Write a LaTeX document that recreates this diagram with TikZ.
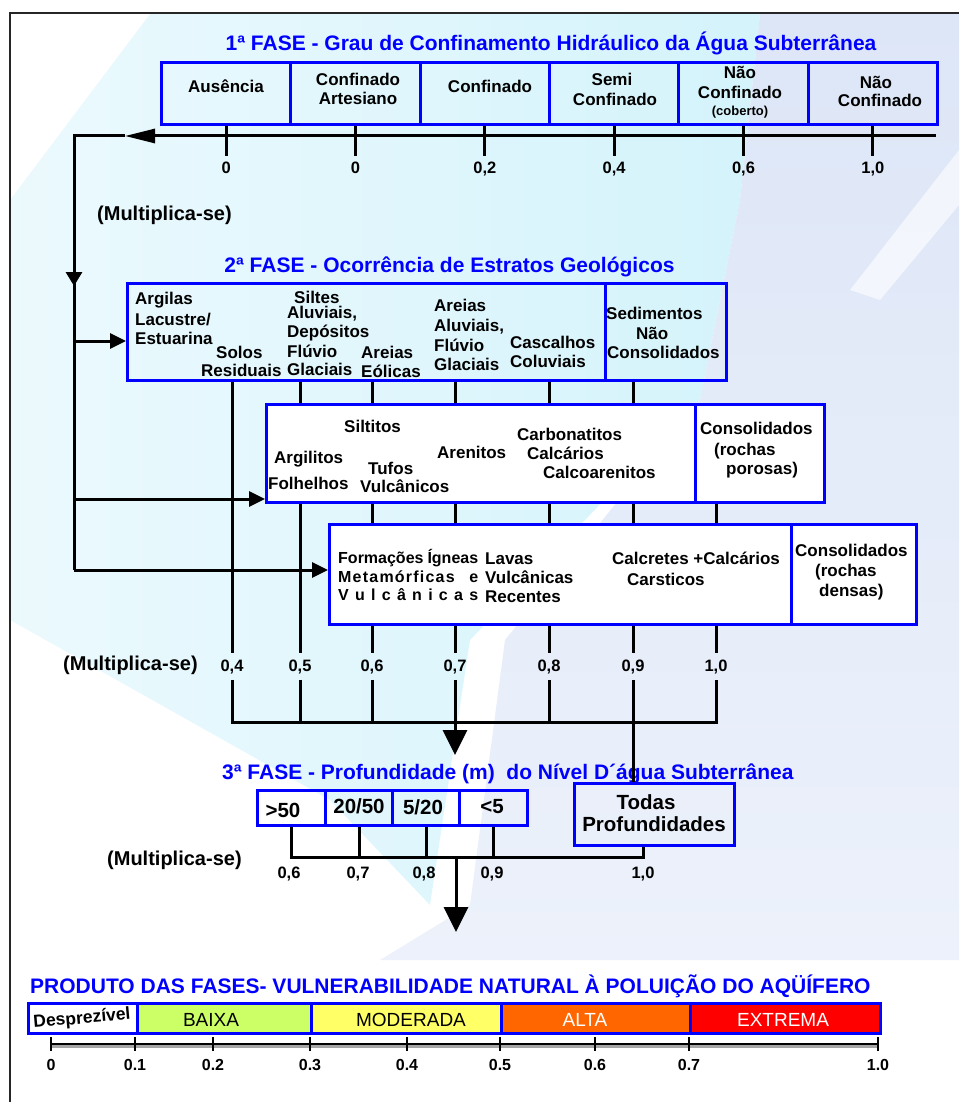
\documentclass[tikz,border=0pt]{standalone}
\usepackage{fontspec}
\setmainfont{Liberation Sans}
\usetikzlibrary{arrows.meta}
\definecolor{pblue}{RGB}{0,0,255}
\definecolor{bgcyan}{RGB}{212,243,251}
\definecolor{bglav}{RGB}{221,230,247}
\definecolor{cbaixa}{RGB}{204,255,102}
\definecolor{cmod}{RGB}{255,255,102}
\definecolor{calta}{RGB}{255,102,0}
\definecolor{cext}{RGB}{255,0,0}
\tikzset{
  bluebox/.style={draw=pblue, line width=3pt, inner sep=0pt, anchor=north west},
  conn/.style={line width=3pt, draw=black, line join=miter},
  tx/.style={font=\fontsize{17}{20}\selectfont\bfseries, inner sep=0pt},
  txs/.style={font=\fontsize{16}{19}\selectfont\bfseries, inner sep=0pt},
  txb/.style={font=\fontsize{20.5}{23}\selectfont\bfseries, inner sep=0pt},
  ttl/.style={font=\fontsize{21}{24}\selectfont\bfseries, text=pblue, inner sep=0pt},
  num/.style={font=\fontsize{16.5}{18}\selectfont\bfseries, inner sep=6pt},
  mult/.style={font=\fontsize{20}{22}\selectfont\bfseries, inner sep=0pt, anchor=base west},
  barlbl/.style={font=\fontsize{19}{21}\selectfont, inner sep=0pt, anchor=base},
  smalltip/.style={-{Triangle[length=16pt,width=15pt]}},
  bigtip/.style={-{Triangle[length=25pt,width=24pt]}}
}
\newcounter{lblc}
\newcommand\tput[5][base west]{\stepcounter{lblc}\node[#2,anchor=#1] (t\arabic{lblc}) at (#3,#4) {#5};}
\begin{document}
\begin{tikzpicture}[x=1pt,y=-1pt]
\useasboundingbox (0,0) rectangle (959,1102);
% background watermark
\shade[left color=bgcyan!45!white, right color=bgcyan] (150,14) -- (760,14) -- (740,200) -- (700,400) -- (470,640) -- (430,905) -- (330,800) -- (10,620) -- (10,200) -- cycle;
\shade[top color=bglav, bottom color=bglav!55!white] (760,14) -- (959,14) -- (959,960) -- (380,960) -- (470,905) -- (505,640) -- (700,400) -- (740,200) -- cycle;
\fill[white, opacity=0.6] (850,290) -- (959,150) -- (959,205) -- (880,300) -- cycle;
% frame
\draw[line width=2pt, black!85] (10,1102) -- (10,13) -- (959,13);

% ===== 1a FASE =====
\node[ttl, anchor=base] (title1) at (551,50.5) {1ª FASE - Grau de Confinamento Hidráulico da Água Subterrânea};
\foreach \i/\x in {a/160,b/289.33,c/418.67,d/548,e/677.33,f/806.67}
  \node[bluebox, minimum width=129.33pt, minimum height=62pt] (p1\i) at (\x,61) {};
\tput[base]{tx}{226}{93}{Ausência}
\tput[base]{tx}{358}{86}{Confinado}
\tput[base]{tx}{358}{105}{Artesiano}
\tput[base]{tx}{490}{93}{Confinado}
\tput[base]{tx}{612}{86}{Semi}
\tput[base]{tx}{615}{106}{Confinado}
\tput[base]{tx}{740}{79}{Não}
\tput[base]{tx}{740}{99}{Confinado}
\tput[base]{font=\fontsize{13}{15}\selectfont\bfseries,inner sep=0pt}{740}{116}{(coberto)}
\tput[base]{tx}{876}{89}{Não}
\tput[base]{tx}{880}{107}{Confinado}
\foreach \i/\v in {a/0,b/0,c/{0,2},d/{0,4},e/{0,6},f/{1,0}}{
  \node[num, anchor=base] (n1\i) at ([yshift=-48pt]p1\i.south) {\v};
  \draw[conn] (p1\i.south) -- (p1\i.south |- n1\i.north);
}
\coordinate (h1r) at (936,136);
\coordinate (h1t) at (125,136);
\coordinate (h1l) at (74,136);
\coordinate (vt) at (74,286);
\coordinate (vb) at (74,570);
\draw[conn, -{Triangle[length=30pt,width=14pt]}] (h1r) -- (h1t);
\draw[conn] (h1t) -- (h1l) -- (vb);
\draw[conn, -{Triangle[length=14pt,width=16pt]}] (h1l) -- (vt);
\node[mult] (mult1) at (97,220) {(Multiplica-se)};

% ===== 2a FASE =====
\node[ttl, anchor=base] (title2) at (449.5,272.5) {2ª FASE - Ocorrência de Estratos Geológicos};
\node[bluebox, minimum width=478pt, minimum height=97pt] (p2a) at (126,282) {};
\node[bluebox, minimum width=121pt, minimum height=97pt] (p2s) at (604,282) {};
\node[bluebox, fill=white, minimum width=429pt, minimum height=98pt] (p2b) at (265,403) {};
\node[bluebox, fill=white, minimum width=129pt, minimum height=98pt] (p2c) at (694,403) {};
\node[bluebox, fill=white, minimum width=462pt, minimum height=100pt] (p3) at (328,523) {};
\node[bluebox, fill=white, minimum width=125pt, minimum height=100pt] (p3c) at (790,523) {};
% box 2a texts
\tput{tx}{135}{304}{Argilas}
\tput{tx}{135}{325}{Lacustre/}
\tput{tx}{135}{344}{Estuarina}
\tput{tx}{216}{358}{Solos}
\tput{tx}{201}{376}{Residuais}
\tput{tx}{294}{303}{Siltes}
\tput{tx}{287}{318}{Aluviais,}
\tput{tx}{287}{337}{Depósitos}
\tput{tx}{287}{357}{Flúvio}
\tput{tx}{287}{375}{Glaciais}
\tput{tx}{361}{358}{Areias}
\tput{tx}{361}{377}{Eólicas}
\tput{tx}{434}{311}{Areias}
\tput{tx}{434}{331}{Aluviais,}
\tput{tx}{434}{351}{Flúvio}
\tput{tx}{434}{370}{Glaciais}
\tput{tx}{510}{348}{Cascalhos}
\tput{tx}{510}{367}{Coluviais}
\tput{tx}{606}{319}{Sedimentos}
\tput{tx}{636}{339}{Não}
\tput{tx}{607}{358}{Consolidados}
% box 2b texts
\tput{tx}{344}{432}{Siltitos}
\tput{tx}{274}{463}{Argilitos}
\tput{tx}{268}{489}{Folhelhos}
\tput{tx}{368}{474}{Tufos}
\tput{tx}{360}{492}{Vulcânicos}
\tput{tx}{437}{458}{Arenitos}
\tput{tx}{517}{440}{Carbonatitos}
\tput{tx}{527}{459}{Calcários}
\tput{tx}{543}{478}{Calcoarenitos}
\tput{tx}{700}{434}{Consolidados}
\tput{tx}{714}{455}{(rochas}
\tput{tx}{726}{474}{porosas)}
% box 3 texts
\tput{txs}{338}{563}{\makebox[140pt][s]{Formações Ígneas}}
\tput{txs}{338}{582}{\makebox[140pt][s]{M\hfil e\hfil t\hfil a\hfil m\hfil ó\hfil r\hfil f\hfil i\hfil c\hfil a\hfil s\hskip 0pt plus 12fil e}}
\tput{txs}{338}{600}{\makebox[140pt][s]{V\hfil u\hfil l\hfil c\hfil â\hfil n\hfil i\hfil c\hfil a\hfil s}}
\tput{tx}{485}{564}{Lavas}
\tput{tx}{485}{583}{Vulcânicas}
\tput{tx}{485}{602}{Recentes}
\tput{tx}{612}{564}{Calcretes +Calcários}
\tput{tx}{627}{585}{Carsticos}
\tput{tx}{795}{556}{Consolidados}
\tput{tx}{815}{576}{(rochas}
\tput{tx}{819}{596}{densas)}
% branch arrows
\coordinate (br1) at (74,341);
\coordinate (br2) at (74,499);
\draw[conn, smalltip] (br1) -- (br1 -| p2a.west);
\draw[conn, smalltip] (br2) -- (br2 -| p2b.west);
\draw[conn, smalltip] (vb) -- (vb -| p3.west);
% numbers phase 2
\foreach \k/\x/\v in {4/232/{0,4},5/300/{0,5},6/372/{0,6},7/455/{0,7},8/549/{0,8},9/633/{0,9},10/716/{1,0}}
  \node[num, anchor=base] (n\k) at (\x,671) {\v};
\node[mult] (mult2) at (63,670) {(Multiplica-se)};
\draw[conn] (p2a.south -| n4) -- (n4.north);
\draw[conn] (p2a.south -| n5) -- (p2b.north -| n5);
\draw[conn] (p2b.south -| n5) -- (n5.north);
\foreach \k in {6,7,8}{
  \draw[conn] (p2a.south -| n\k) -- (p2b.north -| n\k);
  \draw[conn] (p2b.south -| n\k) -- (p3.north -| n\k);
  \draw[conn] (p3.south -| n\k) -- (n\k.north);
}
\draw[conn] (p2s.south -| n9) -- (p2b.north -| n9);
\draw[conn] (p2b.south -| n9) -- (p3.north -| n9);
\draw[conn] (p3.south -| n9) -- (n9.north);
\draw[conn] (p2c.south -| n10) -- (p3.north -| n10);
\draw[conn] (p3.south -| n10) -- (n10.north);
\coordinate (barA) at (232,722);
\draw[conn] (n4.south) |- (n10.south |- barA) -- (n10.south);
\foreach \k in {5,6,8}
  \draw[conn] (n\k.south) -- (n\k.south |- barA);
\coordinate (tip7) at (455,755);
\draw[conn, bigtip] (n7.south) -- (tip7);

% ===== 3a FASE =====
\node[ttl, anchor=base west] (title3) at (222,779.5) {3ª FASE - Profundidade (m)\ \ do Nível D´água Subterrânea};
\node[bluebox, minimum width=68pt, minimum height=35pt] (q1) at (256,789) {};
\node[bluebox, minimum width=67pt, minimum height=35pt] (q2) at (324,789) {};
\node[bluebox, minimum width=67pt, minimum height=35pt] (q3) at (391,789) {};
\node[bluebox, minimum width=68pt, minimum height=35pt] (q4) at (458,789) {};
\node[bluebox, minimum width=160pt, minimum height=62pt] (todas) at (573,782) {};
\tput[base]{txb}{283}{817}{>50}
\tput[base]{txb}{359}{813}{20/50}
\tput[base]{txb}{423}{814}{5/20}
\tput[base]{txb}{492}{813}{<5}
\tput[base]{txb}{646}{809}{Todas}
\tput[base]{txb}{654}{831}{Profundidades}
\draw[conn] (n9.south) -- (n9.south |- todas.north);
\node[mult] (mult3) at (107,865) {(Multiplica-se)};
\foreach \k/\x/\v in {1/289/{0,6},2/358/{0,7},3/424/{0,8},4/492/{0,9},5/643/{1,0}}
  \node[num, anchor=base] (m\k) at (\x,878) {\v};
\coordinate (bar3) at (643,857);
\draw[conn] (q1.south) |- (bar3) -- (bar3 |- todas.south);
\foreach \k in {2,3,4}
  \draw[conn] (q\k.south) -- (q\k.south |- bar3);
\coordinate (a3s) at (456,857);
\coordinate (a3t) at (456,932);
\draw[conn, bigtip] (a3s) -- (a3t);

% ===== PRODUTO =====
\node[ttl, anchor=base west] (title4) at (30,993) {PRODUTO DAS FASES- VULNERABILIDADE NATURAL À POLUIÇÃO DO AQÜÍFERO};
\node[bluebox, fill=white,  minimum width=109pt, minimum height=30pt] (v1) at (27,1002) {};
\node[bluebox, fill=cbaixa, minimum width=174pt, minimum height=30pt] (v2) at (136,1002) {};
\node[bluebox, fill=cmod,   minimum width=190pt, minimum height=30pt] (v3) at (310,1002) {};
\node[bluebox, fill=calta,  minimum width=189pt, minimum height=30pt] (v4) at (500,1002) {};
\node[bluebox, fill=cext,   minimum width=190pt, minimum height=30pt] (v5) at (689,1002) {};
\node[font=\fontsize{17.5}{19}\selectfont\bfseries, inner sep=0pt, rotate=5] (lb1) at (82,1019) {Desprezível};
\node[barlbl] (lb2) at (211,1026) {BAIXA};
\node[barlbl] (lb3) at (411,1026) {MODERADA};
\node[barlbl, text=white] (lb4) at (585,1026) {ALTA};
\node[barlbl, text=white] (lb5) at (783,1026) {EXTREMA};
\coordinate (s0) at (51,1044);
\coordinate (s10) at (878,1044);
\draw[line width=3pt, black!35] ([yshift=-2.5pt]s0) -- ([yshift=-2.5pt]s10);
\draw[line width=2.5pt] (s0) -- (s10);
\foreach \i/\x/\v in {a/51/0,b/135/0.1,c/213/0.2,d/310/0.3,e/407/0.4,f/500/0.5,g/595/0.6,h/689/0.7,k/878/1.0}{
  \node[font=\fontsize{16}{18}\selectfont\bfseries, inner sep=0pt, anchor=base] (w\i) at (\x,1070) {\v};
  \draw[line width=2.5pt] ([yshift=7pt]w\i.north |- s0) -- ([yshift=-7pt]w\i.north |- s0);
}
\end{tikzpicture}
\end{document}
